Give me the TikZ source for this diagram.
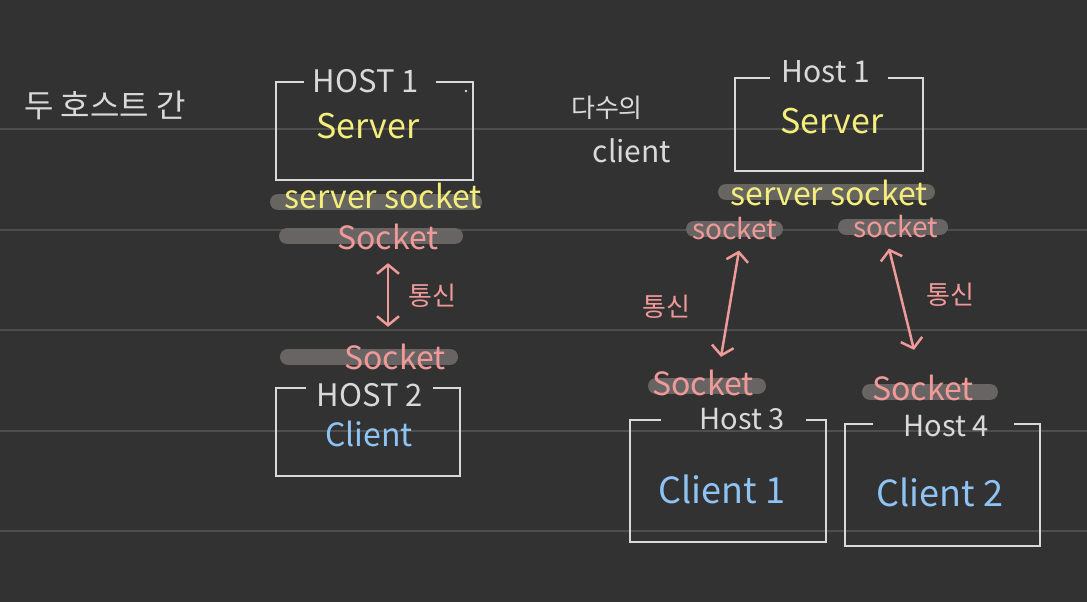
\documentclass[tikz,border=0pt]{standalone}
\usepackage{fontspec}
\setmainfont{Noto Sans CJK KR}
\usetikzlibrary{arrows.meta,calc}
\definecolor{bg}{HTML}{323232}
\definecolor{rule}{HTML}{4E4E4E}
\definecolor{chalk}{HTML}{D9D9D9}
\definecolor{hlyellow}{HTML}{F5EE7C}
\definecolor{hlpink}{HTML}{EF9A99}
\definecolor{hlblue}{HTML}{8EC3F4}
\definecolor{barc}{HTML}{6D6968}
\definecolor{barg}{HTML}{6B6A63}
\newcommand\myfs[1]{\fontsize{#1}{#1}\selectfont}
\begin{document}
\begin{tikzpicture}[x=1pt,y=-1pt,
  ruleline/.style={draw=rule, line width=2.5pt},
  hostbox/.style={inner sep=0pt, draw=none},
  boxline/.style={draw=chalk, line width=2.5pt, line join=miter},
  hbar/.style={line width=16pt, line cap=round, draw=barc, opacity=0.92},
  gbar/.style={line width=16pt, line cap=round, draw=barg, opacity=0.92},
  wtxt/.style={inner sep=0pt, text=chalk},
  ytxt/.style={inner sep=0pt, text=hlyellow},
  ptxt/.style={inner sep=0pt, text=hlpink},
  btxt/.style={inner sep=0pt, text=hlblue},
  comm/.style={draw=hlpink, line width=2.5pt, {Straight Barb[length=9pt,width=22pt]}-{Straight Barb[length=9pt,width=22pt]}}
]
\useasboundingbox (0,0) rectangle (1087,602);
\fill[bg] (0,0) rectangle (1087,602);
\foreach \yy in {129,230,330,431,531} \draw[ruleline] (0,\yy) -- (1087,\yy);

% ---------- left: two hosts ----------
\node[wtxt, font=\myfs{32}] (t1) at (105,105) {두 호스트 간};

\node[hostbox, minimum width=197pt, minimum height=98pt] (h1) at (374.5,131) {};
\node[wtxt, font=\myfs{31}] (h1lab) at (366,81) {HOST 1};
\draw[boxline] ($(h1lab.west|-h1.north)+(-9,0)$) -- (h1.north west) -- (h1.south west) -- (h1.south east) -- (h1.north east) -- ($(h1lab.east|-h1.north)+(17,0)$);
\fill[chalk] (466,91) circle (1.3pt);
\node[ytxt, font=\myfs{34}] (srv1) at (368,126) {Server};

\draw[gbar] (278,202) -- (474,202);
\node[ytxt, font=\myfs{32}] (ss1) at (383,196) {server socket};

\draw[hbar] (287,236) -- (455,236);
\node[ptxt, font=\myfs{32}] (sk1) at (388,237) {Socket};

\draw[hbar] (288,357) -- (450,357);
\node[ptxt, font=\myfs{32}] (sk2) at (395,357) {Socket};

\draw[comm] ($(sk1.south)+(0,13)$) -- ($(sk1.south|-sk2.north)+(0,-17)$);
\node[ptxt, font=\myfs{26}] (c1) at (432,296) {통신};

\node[hostbox, minimum width=184pt, minimum height=88pt] (h2) at (368,432) {};
\node[wtxt, font=\myfs{31}] (h2lab) at (370,395) {HOST 2};
\draw[boxline] ($(h2lab.west|-h2.north)+(-11,0)$) -- (h2.north west) -- (h2.south west) -- (h2.south east) -- (h2.north east) -- ($(h2lab.east|-h2.north)+(10,0)$);
\node[btxt, font=\myfs{32}] (cl0) at (369,434) {Client};

% ---------- right: many clients ----------
\node[wtxt, font=\myfs{26}] (t2a) at (607,108) {다수의};
\node[wtxt, font=\myfs{30}] (t2b) at (632,151) {client};

\node[hostbox, minimum width=188pt, minimum height=93pt] (h3) at (829,124.5) {};
\node[wtxt, font=\myfs{30}] (h3lab) at (826,72) {Host 1};
\draw[boxline] ($(h3lab.west|-h3.north)+(-12,0)$) -- (h3.north west) -- (h3.south west) -- (h3.south east) -- (h3.north east) -- ($(h3lab.east|-h3.north)+(18,0)$);
\node[ytxt, font=\myfs{34}] (srv2) at (832,121) {Server};

\draw[gbar] (726,192) -- (927,192);
\node[ytxt, font=\myfs{32}] (ss2) at (829,193) {server socket};

\draw[hbar] (694,229) -- (775,229);
\node[ptxt, font=\myfs{28}] (skL) at (735,229) {socket};
\draw[hbar] (846,227) -- (940,227);
\node[ptxt, font=\myfs{28}] (skR) at (896,227) {socket};

\draw[hbar] (656,386) -- (758,386);
\node[ptxt, font=\myfs{32}] (sk3) at (703,383) {Socket};
\draw[hbar] (870,392) -- (990,392);
\node[ptxt, font=\myfs{32}] (sk4) at (923,388) {Socket};

\draw[comm] ($(skL.south)+(4,10)$) -- ($(sk3.north)+(18,-13)$);
\draw[comm] ($(skR.south)+(-7,10)$) -- ($(sk4.north)+(-9,-25)$);
\node[ptxt, font=\myfs{26}] (c2) at (666,307) {통신};
\node[ptxt, font=\myfs{26}] (c3) at (950,295) {통신};

\node[hostbox, minimum width=196pt, minimum height=122pt] (h4) at (728,481) {};
\node[wtxt, font=\myfs{29}] (h4lab) at (742,419) {Host 3};
\draw[boxline] ($(h4lab.west|-h4.north)+(-38,0)$) -- (h4.north west) -- (h4.south west) -- (h4.south east) -- (h4.north east) -- ($(h4lab.east|-h4.north)+(21,0)$);
\node[btxt, font=\myfs{36}] (cl1) at (722,489) {Client 1};

\node[hostbox, minimum width=195pt, minimum height=122pt] (h5) at (942.5,485) {};
\node[wtxt, font=\myfs{29}] (h5lab) at (946,426) {Host 4};
\draw[boxline] ($(h5lab.west|-h5.north)+(-30,0)$) -- (h5.north west) -- (h5.south west) -- (h5.south east) -- (h5.north east) -- ($(h5lab.east|-h5.north)+(25,0)$);
\node[btxt, font=\myfs{36}] (cl2) at (940,492) {Client 2};
\end{tikzpicture}
\end{document}
